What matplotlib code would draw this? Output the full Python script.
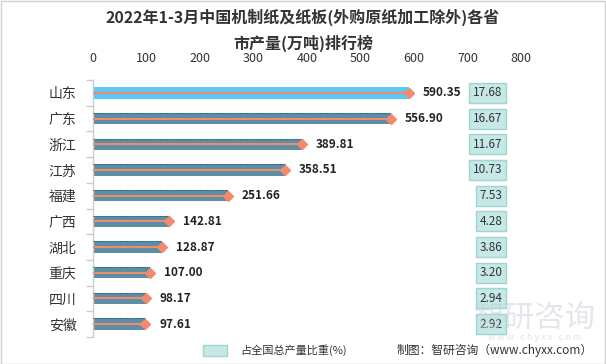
import matplotlib
matplotlib.use("Agg")
import matplotlib.pyplot as plt
from matplotlib.patches import Rectangle

plt.rcParams['font.family'] = ['Noto Sans CJK SC', 'DejaVu Sans']

provinces = ["山东", "广东", "浙江", "江苏", "福建", "广西", "湖北", "重庆", "四川", "安徽"]
output = [590.35, 556.90, 389.81, 358.51, 251.66, 142.81, 128.87, 107.00, 98.17, 97.61]
share = [17.68, 16.67, 11.67, 10.73, 7.53, 4.28, 3.86, 3.20, 2.94, 2.92]
xticks = [0, 100, 200, 300, 400, 500, 600, 700, 800]

W, H = 606, 364
fig = plt.figure(figsize=(W / 100, H / 100), dpi=100)
fig.patch.set_facecolor("white")
fig.add_artist(Rectangle((0.5 / W, 0.5 / H), 1 - 1.5 / W, 1 - 1.5 / H, transform=fig.transFigure,
                         fill=False, edgecolor="#D0D0D0", linewidth=1))

ax = fig.add_axes([93 / W, 1 - 337 / H, 428 / W, 257 / H])
ax.set_xlim(0, 800)
ax.set_ylim(len(provinces) - 0.5, -0.5)

ys = list(range(len(provinces)))
colors = ["#5BC9F4"] + ["#5B8FA6"] * (len(provinces) - 1)
ax.barh(ys, output, height=0.44, color=colors, zorder=2)
for i, (y, v) in enumerate(zip(ys, output)):
    if i > 0:
        ax.plot([0, v], [y - 0.22, y - 0.22], color="#2F5D75", lw=0.8, ls=(0, (1, 1)), zorder=3)
    ax.plot([0, v], [y, y], color="#F28A6E", lw=1.5, zorder=4)
    ax.plot([v], [y], marker="D", color="#F28A6E", markersize=5, zorder=5)
    ax.annotate(f"{v:.2f}", (v, y), xytext=(10, 0), textcoords="offset points",
                ha="left", va="center", fontsize=8.5, fontweight="bold", color="#222222")
    ax.text(765, y, f"{share[i]:.2f}", ha="right", va="center", fontsize=8.5, color="#333333",
            bbox=dict(boxstyle="square,pad=0.3", facecolor="#C6E8E6", edgecolor="#9ED6D0", lw=1),
            zorder=6)

ax.xaxis.tick_top()
ax.set_xticks(xticks)
ax.set_xticklabels([str(t) for t in xticks], fontsize=9, color="#333333")
ax.tick_params(axis="x", length=0, pad=11)
ax.set_yticks(ys)
ax.set_yticklabels(provinces, fontsize=10, color="#333333")
ax.tick_params(axis="y", length=0, pad=12)
ax.set_yticks([y - 0.5 for y in ys] + [len(provinces) - 0.5], minor=True)
ax.tick_params(axis="y", which="minor", length=5, color="#CCCCCC", width=1)
for s in ["top", "right", "bottom"]:
    ax.spines[s].set_visible(False)
ax.spines["left"].set_color("#CCCCCC")
ax.spines["left"].set_linewidth(1)

fig.text(0.5, 1 - 17 / H, "2022年1-3月中国机制纸及纸板(外购原纸加工除外)各省", ha="center", va="center",
         fontsize=11.5, fontweight="bold", color="#333333")
fig.text(0.5, 1 - 43 / H, "市产量(万吨)排行榜", ha="center", va="center",
         fontsize=11.5, fontweight="bold", color="#333333")

# watermark
fig.text(535 / W, 1 - 318 / H, "智研咨询", ha="center", va="center", fontsize=22,
         color="#C9CED6", alpha=0.5, zorder=0)
fig.text(535 / W, 1 - 338 / H, "w w w . c h y x x . c o m", ha="center", va="center", fontsize=6.5,
         color="#C9CED6", alpha=0.6, zorder=0)

# legend
fig.add_artist(Rectangle((203 / W, 1 - 356 / H), 24 / W, 11 / H, transform=fig.transFigure,
                         facecolor="#C6E8E6", edgecolor="#9ED6D0", lw=1))
fig.text(240 / W, 1 - 350 / H, "占全国总产量比重(%)", ha="left", va="center", fontsize=8, color="#333333")
fig.text(593 / W, 1 - 350 / H, "制图：智研咨询（www.chyxx.com）", ha="right", va="center",
         fontsize=8.5, color="#333333")

fig.savefig("out.png", dpi=100)
